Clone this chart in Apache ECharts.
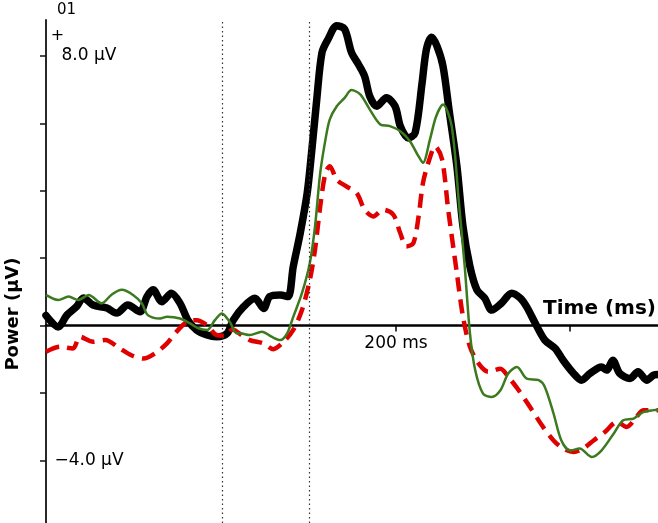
<!DOCTYPE html>
<html>
<head>
<meta charset="utf-8">
<script src="https://cdn.jsdelivr.net/npm/echarts@6/dist/echarts.min.js"></script>
<style>
html,body{margin:0;padding:0;background:#fff;}
#chart{width:658px;height:523px;}
</style>
</head>
<body>
<div id="chart"></div>
<script>
// ---- data (time in ms, amplitude in µV) ----
const blackTime = [-202,-188,-178,-167,-159,-148,-132,-121,-108,-94,-86,-79,-69,-58,-48,-39,-29,-17,-6,6,13,25,38,48,55,67,76,82,90,98,103,109,115,122,132,141,149,157,164,170,178,189,199,205,214,222,230,235,241,247,254,261,270,277,285,293,302,310,321,333,343,350,360,371,383,392,404,413,423,436,442,449,457,469,478,488,496,501];
const blackVal = [0.3,-0.04,0.31,0.56,0.82,0.61,0.52,0.37,0.61,0.41,0.86,1.06,0.71,0.96,0.66,0.16,-0.13,-0.28,-0.33,-0.23,0.16,0.56,0.81,0.51,0.86,0.91,0.86,1.75,2.74,3.93,5.12,6.71,8.1,8.5,8.9,8.8,8.1,7.75,7.4,6.8,6.51,6.76,6.51,5.92,5.57,5.72,7.2,8.2,8.56,8.3,7.7,6.4,4.73,2.94,1.75,1.06,0.81,0.46,0.66,0.96,0.81,0.56,0.07,-0.43,-0.68,-1.03,-1.42,-1.62,-1.42,-1.23,-1.32,-1.03,-1.42,-1.57,-1.37,-1.62,-1.47,-1.45];

const greenTime = [-202,-188,-176,-165,-153,-138,-127,-115,-102,-92,-85,-71,-63,-48,-37,-27,-17,-8,0,9,17,21,32,46,57,67,75,82,92,101,107,113,119,124,132,141,149,159,170,182,193,205,216,226,231,239,246,254,264,272,279,285,291,300,310,320,329,339,350,364,371,381,390,400,411,425,436,450,461,473,484,496,501];
const greenVal = [0.91,0.76,0.86,0.76,0.91,0.66,0.91,1.06,0.91,0.66,0.31,0.21,0.26,0.21,0.07,-0.08,-0.13,0.16,0.36,0.11,-0.23,-0.23,-0.28,-0.18,-0.33,-0.43,-0.23,0.26,0.96,1.85,2.94,4.53,5.52,6.12,6.51,6.76,6.99,6.86,6.41,5.97,5.92,5.77,5.47,5.02,4.83,5.52,6.2,6.56,5.92,3.74,1.75,-0.23,-1.32,-2.02,-2.12,-1.92,-1.42,-1.23,-1.57,-1.62,-1.82,-2.61,-3.41,-3.71,-3.65,-3.9,-3.71,-3.21,-2.81,-2.76,-2.57,-2.51,-2.5];

const redTime = [-202,-186,-171,-163,-148,-134,-117,-104,-90,-77,-63,-52,-40,-29,-17,-6,4,12,21,32,48,59,71,82,92,101,107,113,119,124,132,143,155,164,174,185,197,205,212,220,226,231,238,245,253,260,270,277,285,295,306,320,329,341,354,369,381,392,404,415,427,440,454,465,475,484,501];
const redVal = [-0.78,-0.63,-0.68,-0.33,-0.48,-0.43,-0.68,-0.88,-0.98,-0.83,-0.53,-0.18,0.11,0.16,0.01,-0.28,-0.3,-0.12,-0.25,-0.43,-0.53,-0.7,-0.48,-0.13,0.46,1.35,2.25,3.54,4.53,4.73,4.33,4.13,3.93,3.44,3.24,3.44,3.29,2.74,2.35,2.45,3.24,4.23,4.9,5.32,4.93,3.44,1.55,0.26,-0.63,-1.13,-1.37,-1.28,-1.52,-1.92,-2.42,-3.01,-3.41,-3.65,-3.75,-3.65,-3.41,-3.16,-2.86,-3.01,-2.76,-2.51,-2.51];

// axis ticks / labels
const xTickValues = [200, 400];
const xLabelValues = [200];
const xLabelTexts = {200: '200 ms'};
const yTickValues = [-4, -2, 0, 2, 4, 6, 8];
const yLabelValues = [8, -4];
const yLabelTexts = {8: '8.0 µV', '-4': '\u22124.0 µV'};
const markerTimes = [0, 100];

const X_MIN = -202, X_MAX = 501, Y_MIN = -5.86, Y_MAX = 9.07;
const GRID_TOP = 20, GRID_BOTTOM = 0, H = 523;

function pairs(t, v) { return t.map((x, i) => [x, v[i]]); }

// offset that lifts the x axis from the grid bottom up to the 0 µV line
const plotH = H - GRID_TOP - GRID_BOTTOM;
const zeroOffset = -plotH * (0 - Y_MIN) / (Y_MAX - Y_MIN);

const FONT = '"DejaVu Sans", "Liberation Sans", Arial, sans-serif';
const chart = echarts.init(document.getElementById('chart'), null, {renderer: 'canvas'});

chart.setOption({
  animation: false,
  backgroundColor: '#fff',
  grid: {left: 46, right: 0, top: GRID_TOP, bottom: GRID_BOTTOM, containLabel: false, outerBoundsMode: 'none'},
  xAxis: {
    type: 'value', min: X_MIN, max: X_MAX, position: 'bottom', offset: zeroOffset,
    splitLine: {show: false},
    axisLine: {show: true, onZero: false, lineStyle: {color: '#000', width: 2.5}},
    axisTick: {show: true, customValues: xTickValues, length: 6, inside: false, lineStyle: {color: '#000', width: 1.5}},
    axisLabel: {show: true, customValues: xLabelValues, formatter: v => xLabelTexts[v] || '', margin: 10,
                fontFamily: FONT, fontSize: 17, color: '#000'},
    name: 'Time (ms)', nameLocation: 'end', nameGap: -2,
    nameTextStyle: {fontFamily: FONT, fontSize: 20, fontWeight: 'bold', color: '#000',
                    align: 'right', verticalAlign: 'bottom', padding: [0, 0, 7, 0]}
  },
  yAxis: {
    type: 'value', min: Y_MIN, max: Y_MAX,
    splitLine: {show: false},
    axisLine: {show: true, onZero: false, lineStyle: {color: '#111', width: 1.8}},
    axisTick: {show: true, customValues: yTickValues, length: 6, inside: false, lineStyle: {color: '#111', width: 1.5}},
    axisLabel: {show: true, customValues: yLabelValues, inside: true, margin: 43, align: 'center',
                formatter: v => yLabelTexts[v] || '', fontFamily: FONT, fontSize: 17, color: '#000'}
  },
  graphic: [
    {type: 'text', left: 57, top: 3, style: {text: '01', font: '15px ' + FONT, fill: '#000'}},
    {type: 'text', x: 57.5, y: 36, style: {text: '+', font: '16px ' + FONT, fill: '#000', align: 'center', verticalAlign: 'middle'}},
    {type: 'text', x: 13, y: 314, rotation: Math.PI / 2,
     style: {text: 'Power (µV)', font: 'bold 18px ' + FONT, fill: '#000', align: 'center', verticalAlign: 'middle'}}
  ],
  series: [
    {
      type: 'line', name: 'black', data: pairs(blackTime, blackVal), showSymbol: false, smooth: 0.3,
      lineStyle: {color: '#000', width: 7.5, cap: 'round', join: 'round'}, z: 2,
      markLine: {
        silent: true, symbol: 'none', label: {show: false},
        lineStyle: {color: '#333', width: 1.2, type: [1.5, 3]},
        data: markerTimes.map(t => ({xAxis: t}))
      }
    },
    {
      type: 'line', name: 'red', data: pairs(redTime, redVal), showSymbol: false, smooth: 0.3,
      lineStyle: {color: '#e00000', width: 4.5, type: [14, 8], join: 'round'}, z: 3
    },
    {
      type: 'line', name: 'green', data: pairs(greenTime, greenVal), showSymbol: false, smooth: 0.3,
      lineStyle: {color: '#3b7a1e', width: 2.5, join: 'round'}, z: 4
    }
  ]
});
</script>
</body>
</html>
